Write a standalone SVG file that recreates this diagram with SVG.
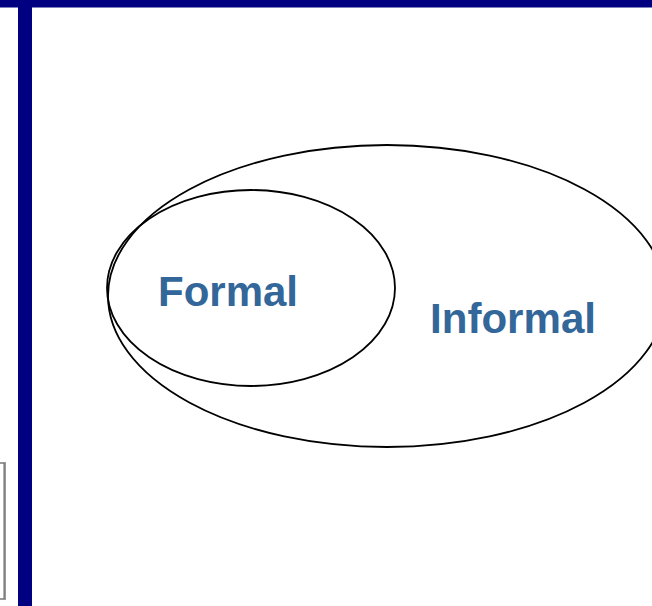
<svg xmlns="http://www.w3.org/2000/svg" width="652" height="606" viewBox="0 0 652 606">
<style>
.bar{fill:#000080}
.ell{fill:none;stroke:#000;stroke-width:1.8}
.lbl{font-family:"Liberation Sans",Arial,sans-serif;font-weight:bold;font-size:42px;fill:#336699}
</style>
<rect width="652" height="606" fill="#fff"/>
<g id="frame">
<rect class="bar" x="0" y="0" width="652" height="7.5"/>
<rect class="bar" x="18" y="0" width="14" height="606"/>
<rect x="-10" y="463" width="15" height="136" fill="none" stroke="#999" stroke-width="2"/>
<line x1="4" y1="463" x2="4" y2="599" stroke="#666" stroke-width="1"/>
</g>
<g id="informal">
<ellipse class="ell" cx="387" cy="296" rx="279" ry="151"/>
<text class="lbl" x="430" y="333" textLength="166" lengthAdjust="spacingAndGlyphs">Informal</text>
</g>
<g id="formal">
<ellipse class="ell" cx="251" cy="288" rx="144" ry="98"/>
<text class="lbl" x="158" y="306" textLength="140" lengthAdjust="spacingAndGlyphs">Formal</text>
</g>
<g id="connectors"/>
</svg>
